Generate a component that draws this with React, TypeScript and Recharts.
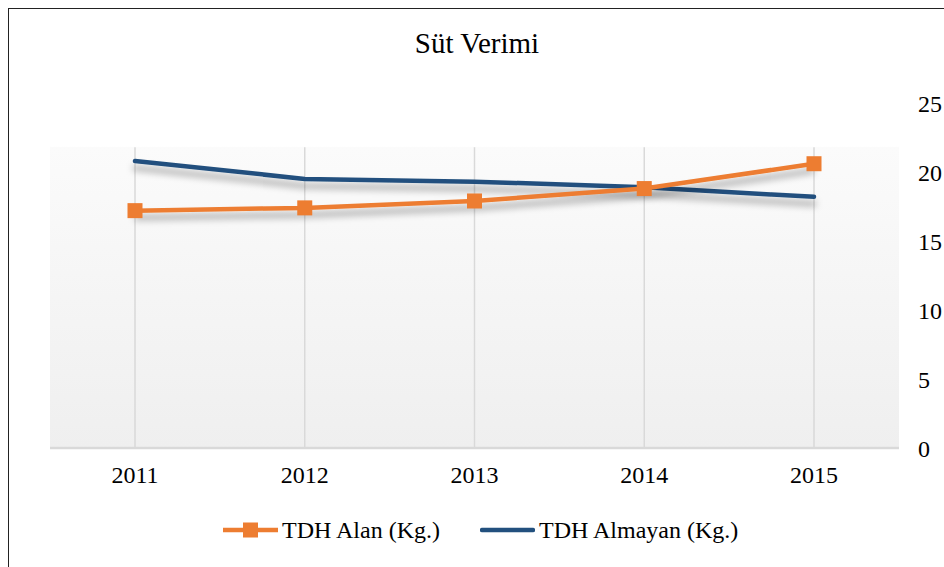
import React from "react";
import {
  LineChart,
  Line,
  XAxis,
  YAxis,
  Legend,
  CartesianGrid,
  ReferenceLine,
} from "recharts";

const years = ["2011", "2012", "2013", "2014", "2015"];
const tdhAlan = [17.2, 17.4, 17.9, 18.8, 20.6];
const tdhAlmayan = [20.8, 19.5, 19.3, 18.9, 18.2];
const yTicks = [0, 5, 10, 15, 20, 25];

const seriesNames = ["TDH Alan (Kg.)", "TDH Almayan (Kg.)"];

const data = years.map((year, i) => ({
  year,
  alan: tdhAlan[i],
  almayan: tdhAlmayan[i],
}));

const ORANGE = "#ED7D31";
const BLUE = "#22507E";
const GRID = "#d9d9d9";
const FONT = "Liberation Serif";
const W = 935;
const H = 558;
// top of the shaded plot band (in data units)
const BAND_TOP = 21.8;

const SquareDot = (props: any) => {
  const { cx, cy, index } = props;
  if (cx == null || cy == null) return null;
  return <rect key={`sq-${index}`} x={cx - 7.5} y={cy - 7.5} width={15} height={15} fill={ORANGE} />;
};

const renderLegend = () => (
  <div
    style={{
      display: "flex",
      alignItems: "center",
      paddingLeft: 214,
      height: 40,
      fontSize: 24,
      fontFamily: FONT,
      color: "#000",
    }}
  >
    <svg width={55} height={16}>
      <line x1={0} y1={8} x2={55} y2={8} stroke={ORANGE} strokeWidth={4.5} />
      <rect x={20} y={0.5} width={15} height={15} fill={ORANGE} />
    </svg>
    <span style={{ marginLeft: 4 }}>{seriesNames[0]}</span>
    <svg width={55} height={16} style={{ marginLeft: 40 }}>
      <line x1={2} y1={8} x2={53} y2={8} stroke={BLUE} strokeWidth={4.5} strokeLinecap="round" />
    </svg>
    <span style={{ marginLeft: 4 }}>{seriesNames[1]}</span>
  </div>
);

export default function App() {
  return (
    <div
      style={{
        position: "fixed",
        top: 8,
        left: 8,
        width: W,
        height: H,
        borderLeft: "1px solid #222",
        borderTop: "1px solid #222",
        overflow: "hidden",
        background: "#fff",
        fontFamily: FONT,
      }}
    >
      <style>{`.shadowLine { filter: url(#lineShadow); } .recharts-text { font-family: "Liberation Serif", serif; }`}</style>
      <div
        style={{
          position: "absolute",
          top: 20,
          left: 0,
          width: 936,
          textAlign: "center",
          fontSize: 29,
          lineHeight: 1,
          color: "#000",
        }}
      >
        Süt Verimi
      </div>
      <LineChart width={W} height={H} data={data} margin={{ top: 94, right: 0, left: 41, bottom: 17 }}>
        <defs>
          <linearGradient id="plotBg" x1="0" y1="0" x2="0" y2="1">
            <stop offset="0%" stopColor="#ffffff" />
            <stop offset="12.6%" stopColor="#ffffff" />
            <stop offset="12.8%" stopColor="#fbfbfb" />
            <stop offset="100%" stopColor="#efefef" />
          </linearGradient>
          <filter id="lineShadow" filterUnits="userSpaceOnUse" x="0" y="0" width={W} height={H}>
            <feDropShadow dx="0" dy="7" stdDeviation="3.5" floodColor="#000" floodOpacity="0.35" />
          </filter>
        </defs>
        <CartesianGrid horizontal={false} vertical={false} fill="url(#plotBg)" fillOpacity={1} />
        {years.map((y) => (
          <ReferenceLine
            key={y}
            segment={[
              { x: y, y: 0 },
              { x: y, y: BAND_TOP },
            ]}
            stroke={GRID}
            strokeWidth={1.5}
          />
        ))}
        <XAxis
          dataKey="year"
          height={62}
          padding={{ left: 85, right: 85 }}
          tickLine={false}
          tickMargin={12}
          axisLine={{ stroke: GRID, strokeWidth: 2.5 }}
          tick={{ fill: "#000", fontSize: 24, fontFamily: FONT }}
        />
        <YAxis
          orientation="right"
          domain={[0, 25]}
          ticks={yTicks}
          width={45}
          axisLine={false}
          tickLine={false}
          tickMargin={13}
          tick={{ fill: "#000", fontSize: 24, fontFamily: FONT }}
        />
        <Legend verticalAlign="bottom" height={40} content={renderLegend} wrapperStyle={{ left: 0, width: W }} />
        <Line
          className="shadowLine"
          dataKey="almayan"
          name={seriesNames[1]}
          stroke={BLUE}
          strokeWidth={4.5}
          strokeLinecap="round"
          dot={false}
          activeDot={false}
          isAnimationActive={false}
        />
        <Line
          className="shadowLine"
          dataKey="alan"
          name={seriesNames[0]}
          stroke={ORANGE}
          strokeWidth={4.5}
          dot={SquareDot}
          activeDot={false}
          isAnimationActive={false}
        />
      </LineChart>
    </div>
  );
}
